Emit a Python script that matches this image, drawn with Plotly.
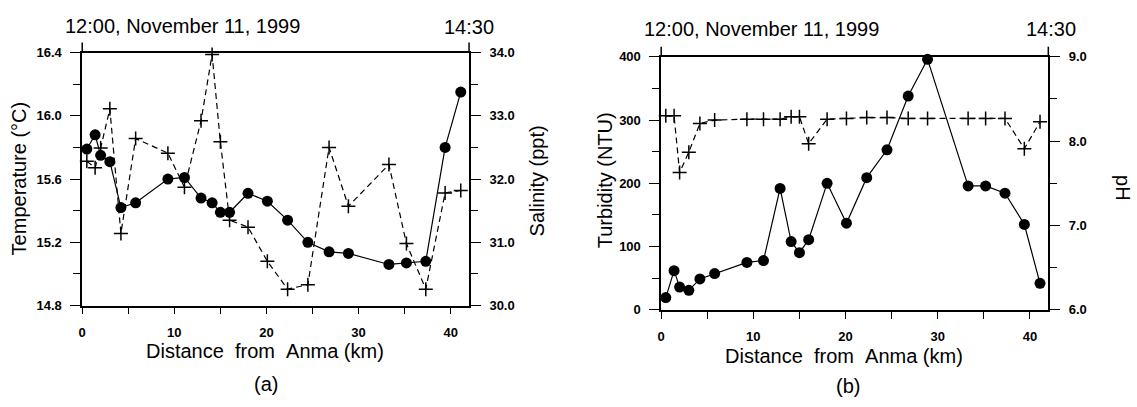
import plotly.graph_objects as go

# Station distances from Anma (km), shared by both panels
distance_km = [0.5, 1.4, 2.0, 3.0, 4.2, 5.8, 9.3, 11.1, 12.9, 14.1, 15.0, 16.0,
               18.0, 20.1, 22.3, 24.5, 26.8, 28.9, 33.3, 35.2, 37.3, 39.4, 41.1]

# Panel (a)
temperature_c = [15.79, 15.88, 15.75, 15.71, 15.42, 15.45, 15.60, 15.61, 15.48, 15.45,
                 15.39, 15.39, 15.51, 15.46, 15.34, 15.20, 15.14, 15.13, 15.06, 15.07,
                 15.08, 15.80, 16.15]
salinity_ppt = [32.28, 32.18, 32.49, 33.11, 31.14, 32.64, 32.41, 31.87, 32.92, 33.97,
                32.59, 31.35, 31.24, 30.70, 30.26, 30.33, 32.50, 31.57, 32.23, 30.98,
                30.26, 31.78, 31.82]

# Panel (b)
turbidity_ntu = [19.5, 62, 36, 31, 49, 57.5, 75, 78, 192, 108, 90.5, 111, 200, 137,
                 209, 253, 338, 396, 196, 196, 184.5, 135, 42]
ph_values = [8.30, 8.30, 7.63, 7.87, 8.21, 8.25, 8.26, 8.26, 8.26, 8.29, 8.29, 7.97,
             8.26, 8.27, 8.28, 8.28, 8.27, 8.27, 8.27, 8.27, 8.27, 7.91, 8.23]

start_label = "12:00, November 11, 1999"
end_label = "14:30"
x_title = "Distance\u00a0\u00a0from\u00a0\u00a0Anma (km)"

W, H = 1137, 407
FONT = "Liberation Sans, Arial, Helvetica, sans-serif"
INK = "black"


def px_x(p):
    return p / W


def px_y(p):
    return 1 - p / H


circle = dict(symbol="circle", size=11, color=INK)
plus = dict(symbol="cross-thin", size=10, color=INK, line=dict(width=1.5, color=INK))

fig = go.Figure()
fig.add_trace(go.Scatter(x=distance_km, y=temperature_c, mode="lines+markers",
                         line=dict(color=INK, width=1.2), marker=circle,
                         xaxis="x", yaxis="y", cliponaxis=False))
fig.add_trace(go.Scatter(x=distance_km, y=salinity_ppt, mode="lines+markers",
                         line=dict(color=INK, width=1.2, dash="6px,4px"), marker=plus,
                         xaxis="x", yaxis="y2", cliponaxis=False))
fig.add_trace(go.Scatter(x=distance_km, y=turbidity_ntu, mode="lines+markers",
                         line=dict(color=INK, width=1.2), marker=circle,
                         xaxis="x2", yaxis="y3", cliponaxis=False))
fig.add_trace(go.Scatter(x=distance_km, y=ph_values, mode="lines+markers",
                         line=dict(color=INK, width=1.2, dash="6px,4px"), marker=plus,
                         xaxis="x2", yaxis="y4", cliponaxis=False))

tick_font = dict(family=FONT, size=13, color=INK, weight="bold")


def x_axis(domain, anchor):
    return dict(domain=domain, anchor=anchor, range=[0, 42], dtick=10, tick0=0,
                showgrid=False, zeroline=False, showline=True, mirror=True,
                linecolor=INK, linewidth=1.5, ticks="outside", ticklen=7,
                tickwidth=1.3, tickcolor=INK, tickfont=tick_font,
                ticklabelstandoff=7,
                minor=dict(dtick=5, tick0=0, ticks="outside", ticklen=7,
                           tickwidth=1.3, tickcolor=INK, showgrid=False))


def y_axis(domain, anchor, rng, dtick, minor, fmt, side="left", overlay=None):
    ax = dict(domain=domain, anchor=anchor, range=rng, dtick=dtick, tick0=rng[0],
              side=side, showgrid=False, zeroline=False, showline=True,
              linecolor=INK, linewidth=1.5, ticks="outside", ticklen=10,
              tickwidth=1.3, tickcolor=INK, tickfont=tick_font, tickformat=fmt,
              ticklabelstandoff=6,
              minor=dict(dtick=minor, tick0=rng[0], ticks="outside", ticklen=7,
                         tickwidth=1.3, tickcolor=INK, showgrid=False))
    if overlay:
        ax["overlaying"] = overlay
    return ax


xa_dom = [px_x(78.5), px_x(466.7)]
ya_dom = [px_y(310), px_y(47.3)]
xb_dom = [px_x(659.5), px_x(1048)]
yb_dom = [px_y(314.5), px_y(51.7)]

fig.update_layout(
    width=W, height=H, margin=dict(l=0, r=0, t=0, b=0),
    paper_bgcolor="white", plot_bgcolor="white", showlegend=False,
    font=dict(family=FONT, color=INK),
    xaxis=x_axis(xa_dom, "y"),
    yaxis=y_axis(ya_dom, "x", [14.8, 16.4], 0.4, 0.2, ".1f"),
    yaxis2=y_axis(ya_dom, "x", [30.0, 34.0], 1.0, 0.5, ".1f", side="right", overlay="y"),
    xaxis2=x_axis(xb_dom, "y3"),
    yaxis3=y_axis(yb_dom, "x2", [0, 400], 100, 50, "d"),
    yaxis4=y_axis(yb_dom, "x2", [6.0, 9.0], 1.0, 0.5, ".1f", side="right", overlay="y3"),
)

# Short axis-line stubs rising above the top frame line
shapes = []
for xref, yref in [("x domain", "y domain"), ("x2 domain", "y3 domain")]:
    for xv in (0, 1):
        shapes.append(dict(type="line", xref=xref, yref=yref, x0=xv, x1=xv,
                           y0=1, y1=1.04, line=dict(color=INK, width=1.5)))
fig.update_layout(shapes=shapes)

ann = []


def text(x, y, s, size=20, angle=0):
    ann.append(dict(x=px_x(x), y=px_y(y), xref="paper", yref="paper", text=s,
                    showarrow=False, textangle=angle, xanchor="center", yanchor="middle",
                    font=dict(family=FONT, size=size, color=INK)))


text(179, 20, start_label)
text(467, 21, end_label)
text(760, 23, start_label)
text(1051, 23, end_label)
text(262, 357, x_title)
text(843, 362, x_title)
text(263, 391, "(a)")
text(847, 393, "(b)")
text(15, 178, "Temperature (°C)", angle=-90)
text(535, 181, "Salinity (ppt)", angle=-90)
text(603, 180, "Turbidity (NTU)", angle=-90)
text(1123, 188, "pH", angle=90)
fig.update_layout(annotations=ann)

fig.write_html("out.html")
